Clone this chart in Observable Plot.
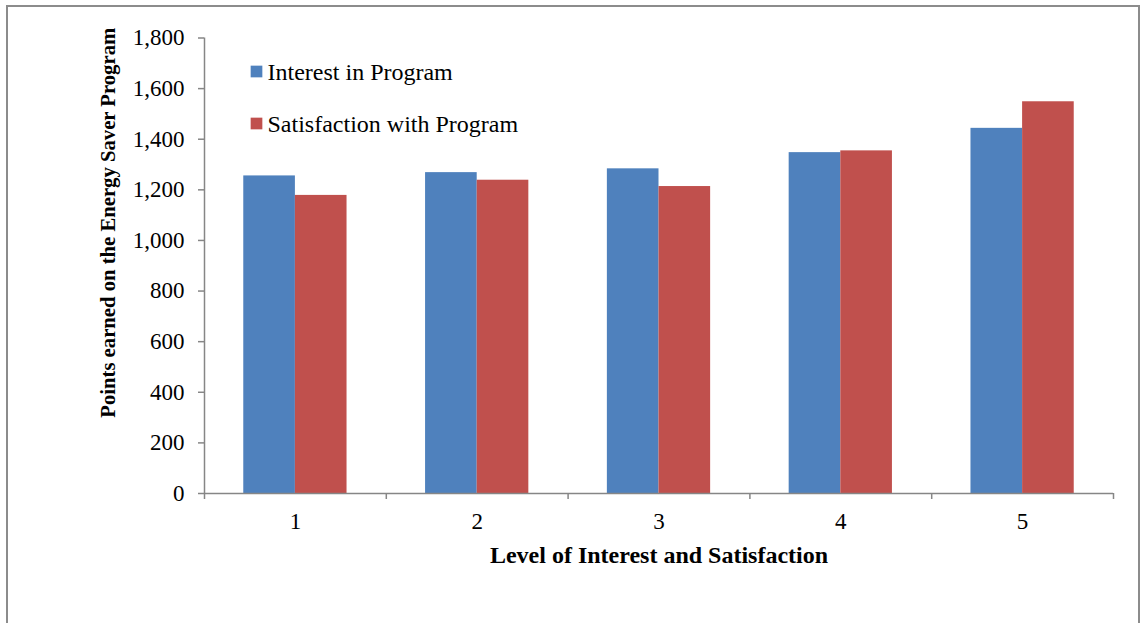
<!DOCTYPE html>
<html>
<head>
<meta charset="utf-8">
<script src="https://cdn.jsdelivr.net/npm/d3@7"></script>
<script src="https://cdn.jsdelivr.net/npm/@observablehq/plot@0.6"></script>
<style>
  html, body { margin: 0; padding: 0; background: #fff; overflow: hidden; }
  #wrap { position: relative; width: 1144px; height: 623px; overflow: hidden; }
  #border { position: absolute; left: 6px; top: 5px; width: 1134px; height: 640px;
            border: 2px solid #8c8c8c; box-sizing: border-box; pointer-events: none; }
</style>
</head>
<body>
<div id="wrap"><div id="border"></div></div>
<script>
// Levels of interest / satisfaction (x categories)
const levels = [1, 2, 3, 4, 5];
// Points earned, by level
const interestPoints = [1255, 1268, 1283, 1347, 1443];
const satisfactionPoints = [1178, 1238, 1213, 1354, 1548];
// Series names and colours
const seriesNames = ["Interest in Program", "Satisfaction with Program"];
const seriesColors = ["#4F81BD", "#C0504D"];
// Axis ticks
const yTicks = [0, 200, 400, 600, 800, 1000, 1200, 1400, 1600, 1800];
const xBoundaries = [0.5, 1.5, 2.5, 3.5, 4.5, 5.5];

const rows = levels.flatMap((lvl, i) => [
  {level: lvl, series: seriesNames[0], value: interestPoints[i], side: -1},
  {level: lvl, series: seriesNames[1], value: satisfactionPoints[i], side: 1}
]);

const barW = 0.284;   // width of one bar in level units
const axisGray = "#868686";
const font = "'Liberation Serif', 'Times New Roman', serif";

const chart = Plot.plot({
  width: 1144,
  height: 623,
  marginLeft: 204,
  marginRight: 31,
  marginTop: 37.5,
  marginBottom: 130,
  style: {fontFamily: font, fontSize: "23px", color: "#000", background: "transparent"},
  x: {type: "linear", domain: [0.5, 5.5], axis: null},
  y: {domain: [0, 1800], axis: null},
  color: {domain: seriesNames, range: seriesColors},
  marks: [
    Plot.rectY(rows, {
      x1: d => d.side < 0 ? d.level - barW : d.level,
      x2: d => d.side < 0 ? d.level : d.level + barW,
      y1: 0,
      y2: "value",
      fill: "series"
    }),
    // axis lines
    Plot.ruleY([0], {stroke: axisGray, strokeWidth: 1.5}),
    Plot.ruleX([0.5], {y1: 0, y2: 1800, stroke: axisGray, strokeWidth: 1.5}),
    // y axis ticks + labels
    Plot.axisY({ticks: yTicks, tickFormat: d3.format(","), tickSize: 6, tickPadding: 14,
                stroke: axisGray, strokeWidth: 1.5, fill: "#000", label: null}),
    // x axis boundary ticks
    Plot.axisX({ticks: xBoundaries, tickFormat: () => "", tickSize: 6, stroke: axisGray,
                strokeWidth: 1.5, label: null}),
    // x category labels
    Plot.axisX({ticks: levels, tickFormat: d3.format("d"), tickSize: 0, tickPadding: 19,
                fill: "#000", label: null}),
    // axis titles
    Plot.text(["Level of Interest and Satisfaction"], {
      frameAnchor: "bottom", lineAnchor: "middle", dy: 62, fontWeight: "bold", fontSize: 24, fill: "#000"
    }),
    Plot.text(["Points earned on the Energy Saver Program"], {
      frameAnchor: "left", textAnchor: "middle", lineAnchor: "middle", rotate: -90,
      dx: -96, dy: -43, fontWeight: "bold", fontSize: 20.7, fill: "#000"
    }),
    // legend: squares + labels anchored in the frame's top-left corner
    ...seriesNames.flatMap((name, i) => [
      Plot.dot([name], {frameAnchor: "top-left", dx: 52, dy: 33.5 + 52 * i, symbol: "square",
                        r: 6.6, fill: seriesColors[i], stroke: null}),
      Plot.text([name], {frameAnchor: "top-left", textAnchor: "start", lineAnchor: "middle",
                         dx: 63, dy: 34 + 52 * i, fontSize: 24, fill: "#000"})
    ])
  ]
});

document.getElementById("wrap").insertBefore(chart, document.getElementById("border"));
</script>
</body>
</html>
